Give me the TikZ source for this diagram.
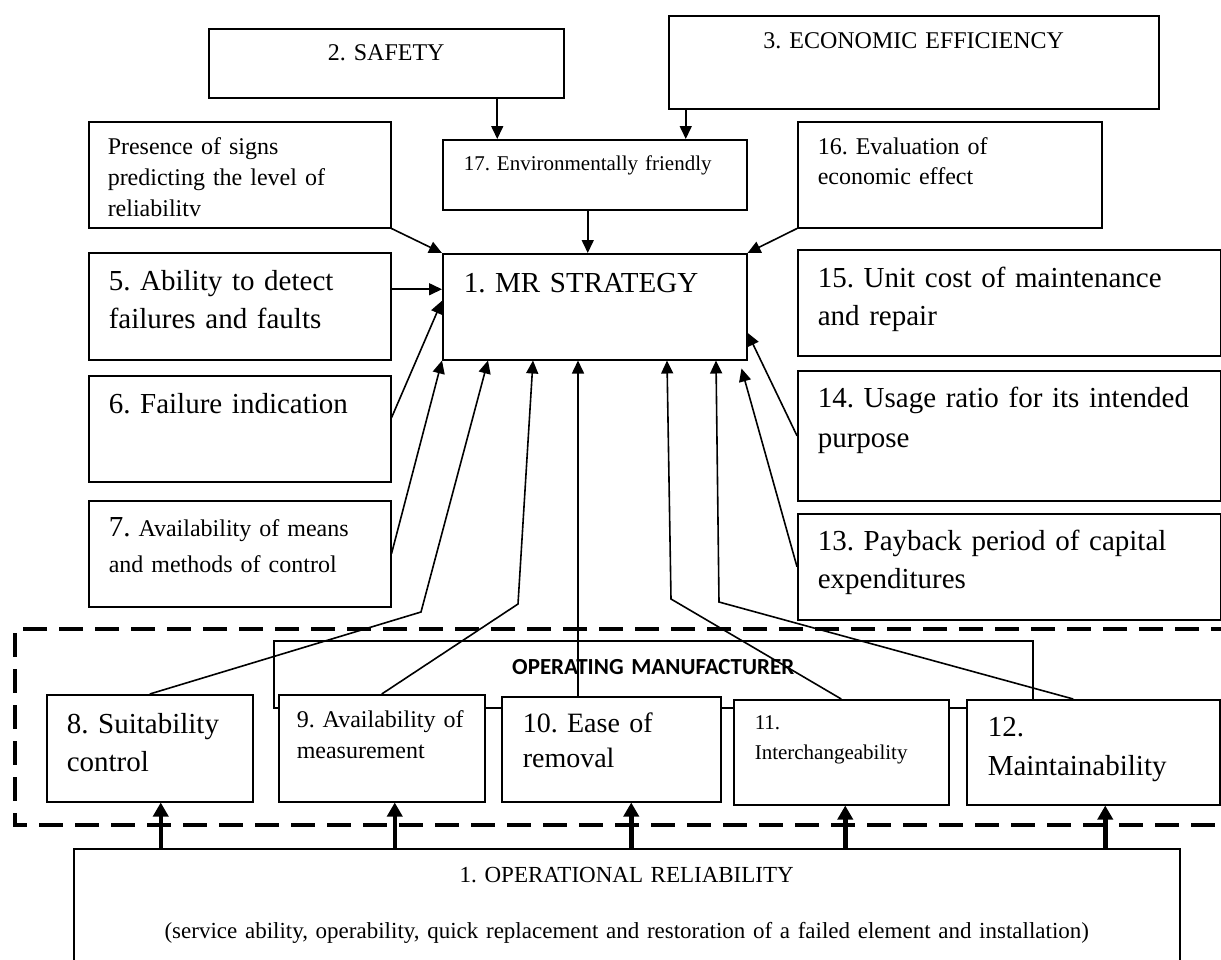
\documentclass[tikz,border=0pt]{standalone}
\usepackage{fontspec}
\setmainfont{Liberation Serif}
\newfontfamily\carlito{Carlito}
\usepackage{tikz}
\usetikzlibrary{arrows.meta, calc}
\frenchspacing

\begin{document}
\begin{tikzpicture} [x=1pt, y=-1pt,
            blk/.style = {draw, line width=1.5pt, fill=white,
                anchor=north west, align=left,
                inner xsep=20pt, inner ysep=0pt},
            bigtxt/.style = {font=\fontsize{29}{38}\selectfont},
            midtxt/.style = {font=\fontsize{24}{31}\selectfont},
            smalltxt/.style = {font=\fontsize{21}{30}\selectfont},
            arr/.style = {-{Triangle[length=13pt, width=12pt]}, line width=1.6pt},
            uparr/.style = {-{Triangle[length=14pt, width=15pt]}, line width=4.5pt},
            dashframe/.style = {line width=4pt, dash pattern=on 24pt off 12pt}]

        \useasboundingbox (0,0) rectangle (1221,959);

        % Dashed frame
        \draw [dashframe] (1235,629) -- (15,629) -- (15,825) -- (1235,825);

        % Operating manufacturer
        \node (opman) [blk, align=center,
            font=\carlito\bfseries\fontsize{23}{26}\selectfont,
            text width=719pt, text height=34pt, text depth=33pt]
            at (273,640) {OPERATING MANUFACTURER};

        % Safety
        \node (safety) [blk, midtxt, align=center,
            text width=315pt, text height=32pt, text depth=37pt]
            at (208,28) {2. SAFETY};

        % Economic efficiency
        \node (econ) [blk, midtxt, align=center,
            text width=450pt, text height=33pt, text depth=60pt]
            at (668,15) {3. ECONOMIC EFFICIENCY};

        % Presence of signs
        \node (presence) [blk, midtxt, inner xsep=19pt,
            text width=264pt, text height=33pt, text depth=73pt]
            at (88,121) {Presence of signs\\predicting the level of\\reliabilitv};

        % Box 17
        \node (env17) [blk, smalltxt, inner xsep=21pt,
            text width=262pt, text height=31pt, text depth=39pt]
            at (442,139) {17. Environmentally friendly};

        % Box 16
        \node (eval16) [blk, font=\fontsize{24}{30}\selectfont,
            text width=264pt, text height=33pt, text depth=73pt]
            at (797,121) {16. Evaluation of\\economic effect};

        % MR strategy
        \node (mr) [blk, bigtxt, inner xsep=21pt,
            text width=262pt, text height=39pt, text depth=67pt]
            at (442,253) {1. MR STRATEGY};

        % Box 5
        \node (b5) [blk, bigtxt,
            text width=262pt, text height=38pt, text depth=69pt]
            at (88,252) {5. Ability to detect\\failures and faults};

        % Box 6
        \node (b6) [blk, bigtxt,
            text width=262pt, text height=38pt, text depth=68pt]
            at (88,375) {6. Failure indication};

        % Box 7
        \node (b7) [blk, font=\fontsize{24}{36}\selectfont,
            text width=262pt, text height=36pt, text depth=70pt]
            at (88,500) {{\fontsize{29}{36}\selectfont 7.} Availability of means\\and methods of control};

        % Box 15
        \node (b15) [blk, bigtxt,
            text width=383pt, text height=38pt, text depth=68pt]
            at (797,249) {15. Unit cost of maintenance\\and repair};

        % Box 14
        \node (b14) [blk, font=\fontsize{29}{40}\selectfont,
            text width=383pt, text height=37pt, text depth=93pt]
            at (797,370) {14. Usage ratio for its intended\\purpose};

        % Box 13
        \node (b13) [blk, bigtxt,
            text width=383pt, text height=37pt, text depth=69pt]
            at (797,513) {13. Payback period of capital\\expenditures};

        % Box 8
        \node (b8) [blk, bigtxt,
            text width=166pt, text height=39pt, text depth=68pt]
            at (46,694) {8. Suitability\\control};

        % Box 9
        \node (b9) [blk, midtxt, inner xsep=18pt,
            text width=170pt, text height=33pt, text depth=74pt]
            at (278,694) {9. Availability of\\measurement};

        % Box 10
        \node (b10) [blk, font=\fontsize{28}{35}\selectfont, inner xsep=21pt,
            text width=177pt, text height=36pt, text depth=69pt]
            at (501,696) {10. Ease of\\removal};

        % Box 11
        \node (b11) [blk, smalltxt, inner xsep=21pt,
            text width=173pt, text height=30pt, text depth=75pt]
            at (733,699) {11.\\Interchangeability};

        % Box 12
        \node (b12) [blk, font=\fontsize{29}{39}\selectfont, inner xsep=21pt,
            text width=211pt, text height=37pt, text depth=68pt]
            at (966,699) {12.\\Maintainability};

        % Operational reliability
        \node (opreal) [blk, align=center, font=\fontsize{23}{28}\selectfont,
            text width=1066pt, text height=34pt, text depth=130pt]
            at (73,848) {1. OPERATIONAL RELIABILITY\\[28pt]
            (service ability, operability, quick replacement and restoration of a failed element and installation)};

        % Bends
        \coordinate (k8) at (421,612);
        \coordinate (k9) at (518,604);
        \coordinate (k11) at (671,599);
        \coordinate (k12) at (719,602);

        % Arrows
        \path [arr]
            ([xshift=111pt]safety.south) edge ([xshift=111pt]safety.south |- env17.north)
            ([xshift=-228pt]econ.south) edge ([xshift=-228pt]econ.south |- env17.north)
            ([xshift=-7pt]env17.south) edge ([xshift=-7pt]mr.north)
            (presence.south east) edge (mr.north west)
            (eval16.south west) edge (mr.north east)
            ([yshift=17pt]b5.east) edge ([yshift=17pt]b5.east -| mr.west)
            ([yshift=11pt]b6.east) edge ([yshift=6pt]mr.west)
            (b7.east) edge (mr.south west)
            (b14.west) edge ([yshift=-26pt]mr.east)
            (b13.west) edge ([xshift=-6pt, yshift=-8pt]mr.south east)
            ([xshift=136pt]mr.south west |- b10.north) edge ([xshift=136pt]mr.south west);

        \draw [arr] (b8.north) -- (k8) -- ([xshift=46pt]mr.south west);
        \draw [arr] (b9.north) -- (k9) -- ([xshift=91pt]mr.south west);
        \draw [arr] (b11.north) -- (k11) -- ([xshift=225pt]mr.south west);
        \draw [arr] ([xshift=-20pt]b12.north) -- (k12) -- ([xshift=274pt]mr.south west);

        % Thick arrows from reliability
        \foreach \bx/\sh in {b8/11, b9/13, b10/20, b11/4, b12/12}
            \draw [uparr] ([xshift=\sh pt]\bx.south |- opreal.north) -- ([xshift=\sh pt]\bx.south);
\end{tikzpicture}
\end{document}
